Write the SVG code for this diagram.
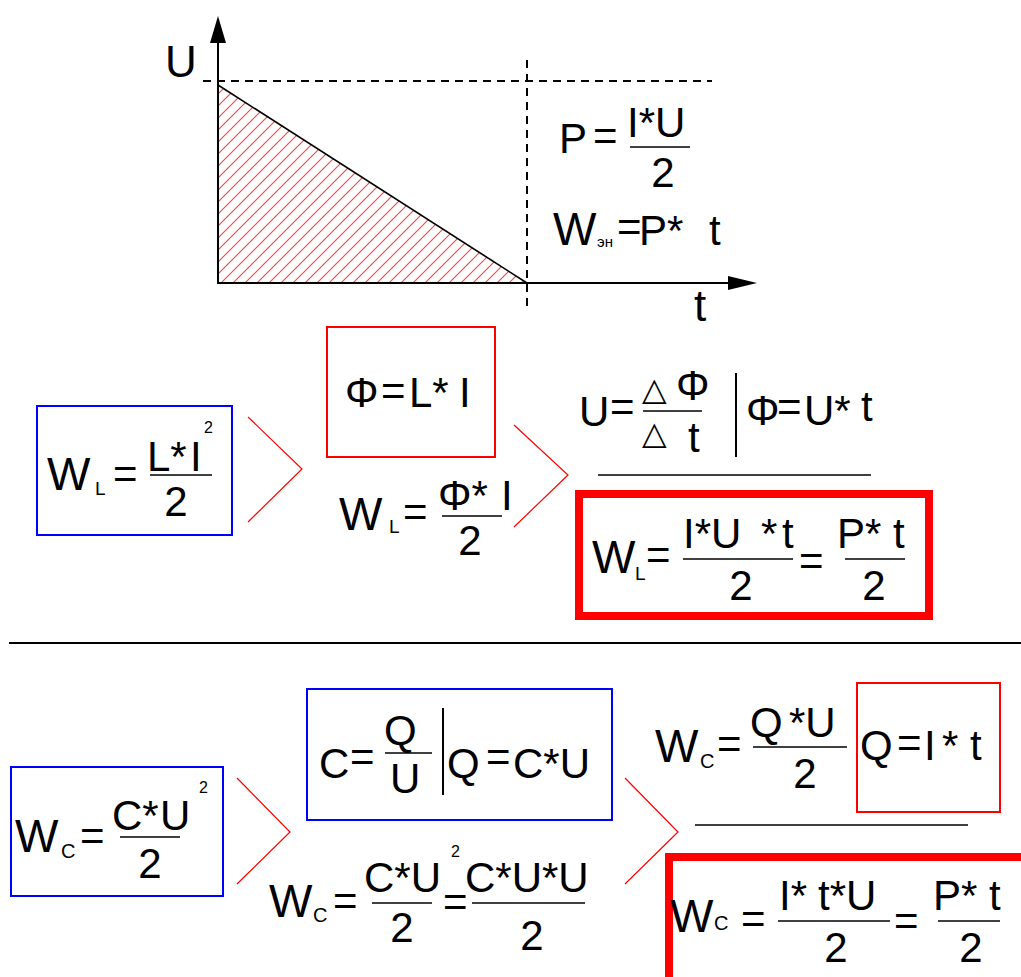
<svg xmlns="http://www.w3.org/2000/svg" width="1021" height="977" viewBox="0 0 1021 977">
<style>
text{font-family:"Liberation Sans",Arial,sans-serif;font-size:42px;fill:#000}
.w{font-size:46px}
.sub{font-size:19px}
.sup{font-size:16px}
.tri{font-family:"DejaVu Sans",sans-serif;font-size:32px}
.c{text-anchor:middle}
.ax{stroke:#000;stroke-width:2;fill:none}
.dash{stroke:#000;stroke-width:2;stroke-dasharray:8,6;fill:none}
.fl{stroke:#000;stroke-width:1.6}
.bb{fill:none;stroke:#0000ff;stroke-width:2}
.rb{fill:none;stroke:#ff0000;stroke-width:2}
.rt{fill:none;stroke:#ff0000;stroke-width:8}
.ch{fill:none;stroke:#ff0000;stroke-width:1.2}
</style>
<defs>
<pattern id="hatch" patternUnits="userSpaceOnUse" width="12" height="12">
<line x1="0" y1="12" x2="12" y2="0" stroke="#ff4040" stroke-width="1.1"/>
<line x1="-3" y1="3" x2="3" y2="-3" stroke="#ff4040" stroke-width="1.1"/>
<line x1="9" y1="15" x2="15" y2="9" stroke="#ff4040" stroke-width="1.1"/>
</pattern>
</defs>

<g id="graph">
<polygon points="218,85 527,283 218,283" fill="url(#hatch)"/>
<line x1="218" y1="85" x2="527" y2="283" stroke="#000" stroke-width="1.6"/>
<line class="dash" x1="203" y1="81" x2="712" y2="81"/>
<line class="dash" x1="527" y1="60" x2="527" y2="310"/>
<line class="ax" x1="218" y1="40" x2="218" y2="284"/>
<polygon points="218,16 210,43 226,43" fill="#000"/>
<line class="ax" x1="217" y1="283" x2="730" y2="283"/>
<polygon points="757,283 728,276 728,290" fill="#000"/>
<text x="165" y="77" style="font-size:44px">U</text>
<text x="694" y="321" style="font-size:44px">t</text>
</g>

<g id="power">
<text x="559" y="153">P</text>
<text x="593" y="150">=</text>
<text x="627" y="137">I*U</text>
<line class="fl" x1="630" y1="147" x2="690" y2="147"/>
<text class="c" x="663" y="187">2</text>
<text class="w" x="553" y="245">W</text>
<text class="sub" x="597" y="247" style="font-size:15px">эн</text>
<text x="617" y="241">=</text>
<text x="639" y="245">P*</text>
<text x="709" y="245">t</text>
</g>

<g id="wl1">
<rect class="bb" x="37" y="406" width="195" height="129"/>
<text class="w" x="47" y="490">W</text>
<text class="sub" x="95" y="495">L</text>
<text x="113" y="488">=</text>
<text x="147" y="471">L*</text>
<text x="190" y="471">I</text>
<text class="sup" x="204" y="433">2</text>
<line class="fl" x1="150" y1="475" x2="212" y2="475"/>
<text class="c" x="176" y="516">2</text>
</g>

<g id="phi">
<rect class="rb" x="327" y="327" width="168" height="130"/>
<text x="345" y="407">Φ</text>
<text x="381" y="405">=</text>
<text x="409" y="407">L*</text>
<text x="459" y="407">I</text>
</g>

<g id="wl2">
<text class="w" x="339" y="530">W</text>
<text class="sub" x="389" y="533">L</text>
<text x="403" y="526">=</text>
<text x="438" y="510">Φ*</text>
<text x="501" y="510">I</text>
<line class="fl" x1="442" y1="516" x2="502" y2="516"/>
<text class="c" x="470" y="555">2</text>
</g>

<g id="uphi">
<text x="579" y="426">U</text>
<text x="610" y="421">=</text>
<text class="tri" x="642" y="400">△</text>
<text x="676" y="400">Φ</text>
<line class="fl" x1="643" y1="411" x2="702" y2="411"/>
<text class="tri" x="642" y="444">△</text>
<text x="688" y="452">t</text>
<line x1="736" y1="373" x2="736" y2="457" stroke="#000" stroke-width="2"/>
<text x="746" y="425">Φ</text>
<text x="777" y="421">=</text>
<text x="804" y="425">U*</text>
<text x="861" y="421">t</text>
<line class="fl" x1="598" y1="475" x2="871" y2="475"/>
</g>

<g id="wl3">
<rect class="rt" x="579" y="494" width="350" height="122"/>
<text class="w" x="592" y="573">W</text>
<text class="sub" x="635" y="580">L</text>
<text x="646" y="569">=</text>
<text x="683" y="548">I*U</text>
<text x="761" y="548">*</text>
<text x="782" y="548">t</text>
<line class="fl" x1="683" y1="559" x2="793" y2="559"/>
<text class="c" x="741" y="600">2</text>
<text x="799" y="575">=</text>
<text x="837" y="548">P*</text>
<text x="893" y="548">t</text>
<line class="fl" x1="845" y1="559" x2="905" y2="559"/>
<text class="c" x="874" y="600">2</text>
</g>

<line id="separator" x1="9" y1="643" x2="1021" y2="643" stroke="#000" stroke-width="2"/>

<g id="wc1">
<rect class="bb" x="11" y="767" width="212" height="129"/>
<text class="w" x="15" y="852">W</text>
<text class="sub" x="61" y="858" style="font-size:20px">C</text>
<text x="80" y="850">=</text>
<text x="112" y="830">C*</text>
<text x="160" y="830">U</text>
<text class="sup" x="199" y="793">2</text>
<line class="fl" x1="120" y1="837" x2="180" y2="837"/>
<text class="c" x="150" y="878">2</text>
</g>

<g id="cq">
<rect class="bb" x="307" y="689" width="305" height="131"/>
<text x="319" y="778">C</text>
<text x="350" y="771">=</text>
<text x="384" y="745">Q</text>
<line class="fl" x1="385" y1="753" x2="432" y2="753"/>
<text x="390" y="793">U</text>
<line x1="443" y1="708" x2="443" y2="795" stroke="#000" stroke-width="2"/>
<text x="447" y="778">Q</text>
<text x="486" y="771">=</text>
<text x="513" y="778">C*U</text>
</g>

<g id="wc2">
<text class="w" x="269" y="917">W</text>
<text class="sub" x="313" y="922" style="font-size:20px">C</text>
<text x="333" y="915">=</text>
<text x="364" y="892">C*U</text>
<text class="sup" x="451" y="857">2</text>
<line class="fl" x1="372" y1="903" x2="432" y2="903"/>
<text class="c" x="402" y="942">2</text>
<text x="443" y="916">=</text>
<text x="465" y="892">C*U*U</text>
<line class="fl" x1="472" y1="903" x2="585" y2="903"/>
<text class="c" x="532" y="950">2</text>
</g>

<g id="wc3">
<text class="w" x="655" y="762">W</text>
<text class="sub" x="700" y="768" style="font-size:20px">C</text>
<text x="717" y="758">=</text>
<text x="750" y="737">Q</text>
<text x="789" y="737">*U</text>
<line class="fl" x1="753" y1="747" x2="847" y2="747"/>
<text class="c" x="805" y="788">2</text>
</g>

<g id="qit">
<rect class="rb" x="857" y="683" width="143" height="129"/>
<text x="860" y="760">Q</text>
<text x="897" y="757">=</text>
<text x="924" y="760">I</text>
<text x="942" y="760">*</text>
<text x="970" y="760">t</text>
<line class="fl" x1="695" y1="825" x2="968" y2="825"/>
</g>

<g id="wc4">
<rect class="rt" x="669" y="857" width="370" height="140"/>
<text class="w" x="670" y="932">W</text>
<text class="sub" x="714" y="930" style="font-size:20px">C</text>
<text x="741" y="933">=</text>
<text x="779" y="910">I*</text>
<text x="818" y="910">t*U</text>
<line class="fl" x1="778" y1="921" x2="890" y2="921"/>
<text class="c" x="836" y="962">2</text>
<text x="894" y="935">=</text>
<text x="933" y="910">P*</text>
<text x="989" y="910">t</text>
<line class="fl" x1="938" y1="921" x2="1000" y2="921"/>
<text class="c" x="971" y="962">2</text>
</g>

<g id="connectors">
<polyline class="ch" points="248,417 302,469 248,522"/>
<polyline class="ch" points="514,425 568,475 514,527"/>
<polyline class="ch" points="237,778 290,832 237,884"/>
<polyline class="ch" points="625,778 678,832 625,884"/>
</g>
</svg>
